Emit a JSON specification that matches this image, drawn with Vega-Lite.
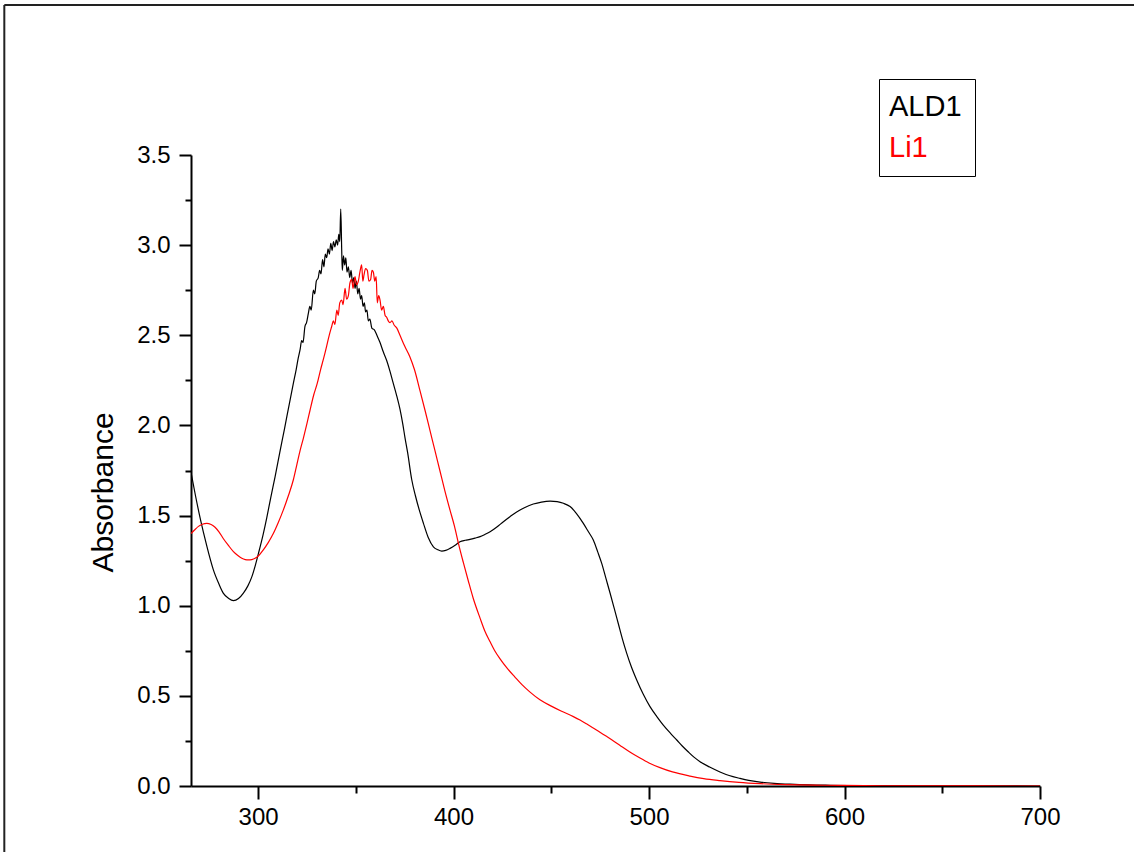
{
"$schema": "https://vega.github.io/schema/vega-lite/v6.json",
"width": 849, "height": 631,
"autosize": {"type": "none"},
"padding": {"left": 191, "top": 155, "right": 94, "bottom": 66},
"background": "white",
"config": {"view": {"stroke": null}, "font": "Liberation Sans"},
"datasets": {
"ALD1": [[265.7,1.74],[268,1.61],[270.3,1.49],[272,1.41],[273.8,1.33],[277.1,1.2],[280,1.12],[282.2,1.07],[285,1.04],[287.4,1.028],[290,1.04],[292.5,1.07],[294.8,1.11],[296.8,1.16],[298.5,1.22],[300.2,1.29],[302.5,1.39],[304.5,1.49],[306.5,1.6],[308.7,1.715],[311.3,1.86],[313.5,1.98],[316,2.12],[318,2.23],[319.5,2.31],[320.5,2.37],[321.5,2.42],[322.3,2.47],[323,2.46],[324,2.55],[324.8,2.57],[325.7,2.62],[326.5,2.66],[327.2,2.64],[328.3,2.75],[329,2.73],[329.8,2.8],[330.8,2.82],[331.5,2.86],[332.2,2.84],[333,2.92],[333.7,2.88],[334.4,2.95],[335.1,2.93],[335.8,2.98],[336.5,2.95],[337.2,3.01],[337.9,2.97],[338.6,3.02],[339.3,2.99],[340,3.03],[340.7,3.0],[341.3,3.06],[341.8,3.02],[342.3,3.2],[342.8,2.97],[343.1,2.86],[343.7,2.94],[344.3,2.89],[344.9,2.93],[345.5,2.85],[346.2,2.88],[346.9,2.82],[347.6,2.86],[348.3,2.79],[349,2.82],[349.6,2.76],[350.3,2.8],[351,2.73],[351.7,2.76],[352.4,2.7],[353,2.72],[353.7,2.66],[354.4,2.68],[355,2.63],[355.7,2.64],[356.4,2.58],[357.2,2.59],[358.2,2.54],[359.5,2.53],[360.8,2.5],[362.4,2.46],[364,2.41],[365.8,2.36],[367.5,2.3],[369,2.24],[370.8,2.17],[372.6,2.09],[374,2.01],[375.2,1.93],[376.5,1.85],[378.6,1.7],[380.5,1.61],[382.5,1.53],[384.6,1.457],[387,1.38],[389.7,1.327],[392,1.31],[394,1.303],[396,1.307],[398.2,1.318],[400.8,1.335],[403.3,1.355],[406,1.363],[408.4,1.368],[411,1.375],[413.6,1.383],[416,1.395],[418.7,1.41],[422,1.435],[425.5,1.466],[429,1.495],[432.3,1.52],[436.5,1.545],[440.8,1.564],[445,1.575],[449.4,1.58],[453,1.577],[456.2,1.568],[459.6,1.55],[463,1.51],[466.4,1.457],[469,1.41],[471.5,1.364],[473.7,1.3],[475.8,1.235],[478,1.15],[480.1,1.069],[482.2,0.985],[484.3,0.9],[486.4,0.815],[488.6,0.736],[491,0.66],[493.7,0.588],[497,0.51],[500.5,0.44],[504,0.385],[507.3,0.338],[511,0.292],[514.2,0.255],[517,0.222],[520,0.19],[523,0.16],[526.1,0.135],[531,0.105],[536.3,0.078],[541,0.058],[546.5,0.042],[551,0.031],[556.8,0.022],[564,0.015],[572.1,0.01],[582,0.006],[592.6,0.004],[610,0.002],[640,0.001],[700,0.0]],
"Li1": [[265.7,1.4],[267.5,1.42],[269.5,1.44],[271.5,1.452],[273.8,1.457],[276,1.45],[278,1.435],[280,1.41],[282.2,1.373],[284.8,1.335],[287.4,1.3],[289.5,1.28],[291.7,1.263],[293.5,1.256],[295,1.254],[296.8,1.256],[298.5,1.263],[300.5,1.28],[302.7,1.31],[305.2,1.35],[307.8,1.4],[310.3,1.46],[312.9,1.53],[315.5,1.61],[318.1,1.7],[319.8,1.78],[321.5,1.86],[323.2,1.93],[325,2.01],[326.5,2.08],[328.5,2.17],[330.2,2.23],[332,2.31],[333.5,2.37],[335.1,2.44],[336.4,2.5],[337.7,2.55],[338.5,2.58],[339.3,2.56],[340.3,2.64],[341,2.61],[341.8,2.68],[342.8,2.695],[343.5,2.67],[344.5,2.76],[345.3,2.7],[346.2,2.72],[347,2.79],[347.9,2.81],[348.6,2.76],[349.6,2.825],[350.4,2.78],[351.3,2.8],[352.1,2.85],[353,2.89],[353.6,2.8],[354.2,2.835],[355,2.87],[355.9,2.86],[356.7,2.8],[357.6,2.81],[358.3,2.86],[359,2.85],[359.7,2.8],[360.4,2.825],[361,2.68],[361.7,2.72],[362.4,2.695],[363.2,2.64],[364.1,2.66],[365,2.61],[365.8,2.6],[366.6,2.58],[367.5,2.57],[368.5,2.58],[369.6,2.557],[371,2.54],[372.6,2.5],[375,2.44],[377.7,2.38],[380,2.31],[382.9,2.19],[385.5,2.08],[388,1.97],[390.5,1.86],[393,1.75],[395.5,1.64],[398.2,1.53],[400.5,1.44],[402.5,1.346],[405,1.24],[407.5,1.14],[410.1,1.04],[413.6,0.93],[416,0.86],[418.7,0.8],[421,0.752],[423.8,0.705],[427.5,0.652],[431.5,0.603],[435,0.562],[439,0.522],[444.2,0.478],[450,0.443],[455,0.416],[461.3,0.385],[464.7,0.366],[468,0.345],[471,0.325],[474.9,0.298],[478,0.277],[480.9,0.257],[485.2,0.225],[490,0.19],[495.4,0.155],[500,0.128],[505.6,0.102],[512,0.078],[521,0.055],[528,0.041],[536.3,0.03],[546,0.02],[556.8,0.013],[570,0.008],[585,0.005],[600,0.003],[630,0.001],[700,0.0]]
},
"layer": [
{
"data": {"values": [{}]},
"mark": {"type": "rule", "color": "#222222", "strokeWidth": 2, "clip": false},
"encoding": {"x": {"datum": 170.2, "type": "quantitative", "scale": {"domain": [265.7, 700], "nice": false, "zero": false}}, "x2": {"datum": 780}, "y": {"datum": 4.332, "type": "quantitative", "scale": {"domain": [0, 3.5], "nice": false}}}
},
{
"data": {"values": [{}]},
"mark": {"type": "rule", "color": "#222222", "strokeWidth": 2, "clip": false},
"encoding": {"x": {"datum": 170.2, "type": "quantitative"}, "y": {"datum": 4.332, "type": "quantitative"}, "y2": {"datum": -0.5}}
},
{
"data": {"name": "ALD1"},
"transform": [{"calculate": "'ALD1'", "as": "series"}, {"calculate": "datum[0]", "as": "wl"}, {"calculate": "datum[1]", "as": "abs"}],
"mark": {"type": "line", "strokeWidth": 1.2, "clip": true, "interpolate": "monotone"},
"encoding": {
"x": {"field": "wl", "type": "quantitative"},
"y": {"field": "abs", "type": "quantitative"},
"color": {"field": "series", "type": "nominal"}
}
},
{
"data": {"name": "Li1"},
"transform": [{"calculate": "'Li1'", "as": "series"}, {"calculate": "datum[0]", "as": "wl"}, {"calculate": "datum[1]", "as": "abs"}],
"mark": {"type": "line", "strokeWidth": 1.2, "clip": true, "interpolate": "monotone"},
"encoding": {
"x": {"field": "wl", "type": "quantitative", "scale": {"domain": [265.7, 700], "nice": false, "zero": false},
"axis": {"title": null, "values": [300,350,400,450,500,550,600,650,700], "labelExpr": "datum.value % 100 === 0 ? format(datum.value, 'd') : ''", "tickSize": {"condition": {"test": "datum.value % 100 === 0", "value": 13}, "value": 7}, "labelPadding": 6, "labelFontSize": 24, "labelColor": "#000", "domainColor": "#000", "domainWidth": 2, "tickColor": "#000", "tickWidth": 2, "grid": false, "labelFlush": false}},
"y": {"field": "abs", "type": "quantitative", "scale": {"domain": [0, 3.5], "nice": false},
"axis": {"title": "Absorbance", "titleFontSize": 30, "titleFontWeight": "normal", "titleColor": "#000", "titlePadding": 18, "titleY": 337, "values": [0,0.25,0.5,0.75,1,1.25,1.5,1.75,2,2.25,2.5,2.75,3,3.25,3.5], "labelExpr": "datum.value % 0.5 === 0 ? format(datum.value, '.1f') : ''", "tickSize": {"condition": {"test": "datum.value % 0.5 === 0", "value": 12}, "value": 6}, "labelPadding": 9, "labelFontSize": 24, "labelColor": "#000", "domainColor": "#000", "domainWidth": 2, "tickColor": "#000", "tickWidth": 2, "grid": false, "labelFlush": false}},
"color": {"field": "series", "type": "nominal", "scale": {"domain": ["ALD1", "Li1"], "range": ["#000000", "#ff0000"]},
"legend": {"title": null, "orient": "none", "legendX": 688, "legendY": -76, "strokeColor": "#000", "fillColor": "#fff", "padding": 13, "symbolSize": 0, "symbolStrokeWidth": 0, "symbolOpacity": 0, "labelOffset": -32, "labelFontSize": 29, "rowPadding": 11, "labelLimit": 300,
"encode": {"labels": {"update": {"fill": {"scale": "color", "field": "value"}}}}}}
}
}
]
}
